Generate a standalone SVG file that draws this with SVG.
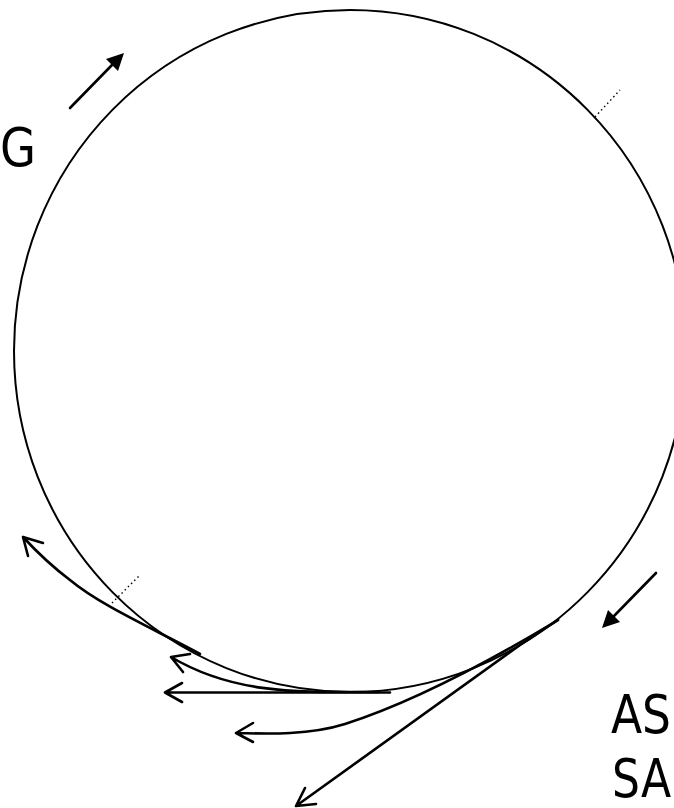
<svg xmlns="http://www.w3.org/2000/svg" width="674" height="808" viewBox="0 0 674 808">
<style>
.l{fill:none;stroke:#000;stroke-width:2.6;stroke-linecap:round;stroke-linejoin:round}
.c{fill:none;stroke:#000;stroke-width:2}
.d{fill:none;stroke:#000;stroke-width:1.4;stroke-dasharray:1.5 3}
.f{fill:#000}
text{font-family:"DejaVu Sans Condensed","DejaVu Sans",sans-serif;font-stretch:condensed;font-size:54px;fill:#000}
</style>
<rect width="674" height="808" fill="#fff"/>
<g id="circle"><ellipse class="c" cx="350" cy="351" rx="336" ry="341"/></g>
<g id="ticks">
<path class="d" d="M595 117L620 90"/>
<path class="d" d="M112 603L139 576"/>
</g>
<g id="connectors">
<path class="l" d="M70 108L112 65"/><polygon class="f" points="124,53 118,71 106,59"/>
<path class="l" d="M656 573L614 616"/><polygon class="f" points="602,628 608,610 620,622"/>
<path class="l" d="M200 654C150 627 100 605 70 580C50 565 35 550 23 537M43 543L23 537L28 556"/>
<path class="l" d="M379 692C300 692 235 695 171 657M190 654L171 657L183 672"/>
<path class="l" d="M390 692.500L165 692.500M182 683L165 692.500L182 702"/>
<path class="l" d="M558 620C500 655 420 700 345 724C310 735 270 734 236 733M253 723L236 733L253 742"/>
<path class="l" d="M558 620L520 645L296 806M305 788L296 806L316 804"/>
</g>
<g id="labels">
<text x="0" y="166" textLength="36" lengthAdjust="spacingAndGlyphs">G</text>
<text x="611" y="733" textLength="60" lengthAdjust="spacingAndGlyphs">AS</text>
<text x="612" y="797" textLength="59" lengthAdjust="spacingAndGlyphs">SA</text>
</g>
</svg>
